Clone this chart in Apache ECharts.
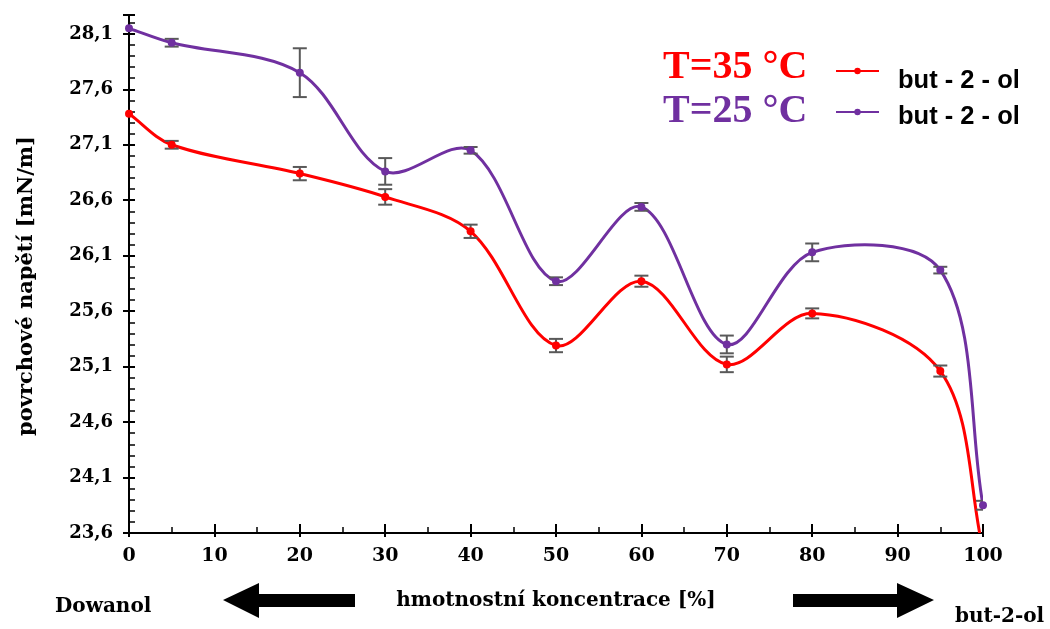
<!DOCTYPE html>
<html>
<head>
<meta charset="utf-8">
<script src="https://cdn.jsdelivr.net/npm/echarts@6/dist/echarts.min.js"></script>
<style>html,body{margin:0;padding:0;background:#fff}#c{width:1050px;height:629px}</style>
</head>
<body>
<div id="c"></div>
<script>
// ---- data ----
const concentrations = [0, 5, 20, 30, 40, 50, 60, 70, 80, 95, 100];
const t35Values = [27.38, 27.10, 26.84, 26.63, 26.32, 25.29, 25.87, 25.12, 25.58, 25.06, 23.45];
const t35Errors = [0, 0.035, 0.06, 0.07, 0.06, 0.06, 0.05, 0.07, 0.045, 0.05, 0.05];
const t25Values = [28.15, 28.02, 27.75, 26.86, 27.05, 25.87, 26.54, 25.30, 26.13, 25.97, 23.85];
const t25Errors = [0, 0.035, 0.22, 0.12, 0.03, 0.035, 0.035, 0.08, 0.08, 0.03, 0.04];
const seriesNames = ['T=35 °C', 'T=25 °C'];
const legendLabel = 'but - 2 - ol';
const xTitle = 'hmotnostní koncentrace [%]';
const yTitle = 'povrchové napětí [mN/m]';
const leftNote = 'Dowanol';
const rightNote = 'but-2-ol';

const RED = '#FF0000', PURPLE = '#7030A0', ERR = '#595959';
const SERIF = '"DejaVu Serif"';

const pts = (vals) => concentrations.map((x, i) => [x, vals[i]]);
const errPts = (vals, errs) => concentrations.map((x, i) => [x, vals[i], errs[i]]);

function errRender(params, api) {
  const x = api.value(0), y = api.value(1), e = api.value(2);
  if (!e) return null;
  const top = api.coord([x, y + e]), bot = api.coord([x, y - e]);
  const w = 7;
  const st = { stroke: ERR, lineWidth: 2 };
  return { type: 'group', children: [
    { type: 'line', shape: { x1: top[0], y1: top[1], x2: bot[0], y2: bot[1] }, style: st },
    { type: 'line', shape: { x1: top[0] - w, y1: top[1], x2: top[0] + w, y2: top[1] }, style: st },
    { type: 'line', shape: { x1: bot[0] - w, y1: bot[1], x2: bot[0] + w, y2: bot[1] }, style: st }
  ]};
}

// Smoothed (Catmull-Rom style) segment between consecutive data points, in pixel space
const TENSION = 1 / 3;
function ctrl(prev, cur, next, dir) {
  const tx = next[0] - prev[0], ty = next[1] - prev[1];
  const lp = Math.hypot(cur[0] - prev[0], cur[1] - prev[1]);
  const ln = Math.hypot(next[0] - cur[0], next[1] - cur[1]);
  const tot = lp + ln || 1;
  const k = TENSION * (dir > 0 ? ln : lp) / tot;
  return [cur[0] + dir * tx * k, cur[1] + dir * ty * k];
}
function makeCurveRender(color) {
  return function (params, api) {
    const i = params.dataIndexInside, n = params.dataInsideLength;
    if (i >= n - 1) return null;
    const P = k => api.coord([api.value(0, k), api.value(1, k)]);
    const p0 = P(Math.max(i - 1, 0)), p1 = P(i), p2 = P(i + 1), p3 = P(Math.min(i + 2, n - 1));
    const a = ctrl(p0, p1, p2, 1), b = ctrl(p1, p2, p3, -1);
    return { type: 'bezierCurve',
      shape: { x1: p1[0], y1: p1[1], x2: p2[0], y2: p2[1], cpx1: a[0], cpy1: a[1], cpx2: b[0], cpy2: b[1] },
      style: { stroke: color, lineWidth: 3, fill: null } };
  };
}

const chart = echarts.init(document.getElementById('c'), null, { renderer: 'canvas' });
chart.setOption({
  animation: false,
  backgroundColor: '#fff',
  grid: { left: 129, right: 67, top: 15, bottom: 96, containLabel: false, outerBoundsMode: 'none' },
  xAxis: [
    { type: 'value', min: 0, max: 100, interval: 10,
      axisLine: { lineStyle: { color: '#000', width: 2 } },
      axisTick: { inside: true, length: 9, lineStyle: { color: '#000', width: 2 } },
      minorTick: { show: true, splitNumber: 2, length: 6, lineStyle: { color: '#000', width: 1.5 } },
      axisLabel: { fontFamily: SERIF, fontWeight: 'bold', fontSize: 19, color: '#000', margin: 14 },
      splitLine: { show: false },
      name: xTitle, nameLocation: 'middle', nameGap: 58,
      nameTextStyle: { fontFamily: SERIF, fontWeight: 'bold', fontSize: 20, color: '#000' } },
    { type: 'value', min: 0, max: 100, interval: 10, position: 'bottom',
      axisLine: { show: false }, axisLabel: { show: false }, splitLine: { show: false },
      axisTick: { inside: false, length: 4, lineStyle: { color: '#000', width: 2 } } }
  ],
  yAxis: [
    { type: 'value', min: 23.6, max: 28.27, interval: 0.5,
      axisLine: { show: true, lineStyle: { color: '#000', width: 2 } },
      axisTick: { inside: true, length: 6, lineStyle: { color: '#000', width: 2 } },
      minorTick: { show: true, splitNumber: 5, length: 6, lineStyle: { color: '#000', width: 1.5 } },
      axisLabel: { fontFamily: SERIF, fontWeight: 'bold', fontSize: 18, color: '#000', margin: 16,
        showMaxLabel: false, formatter: v => v.toFixed(1).replace('.', ',') },
      splitLine: { show: false } },
    { type: 'value', min: 23.6, max: 28.27, interval: 0.5, position: 'left',
      axisLine: { show: false }, axisLabel: { show: false }, splitLine: { show: false },
      axisTick: { inside: false, length: 6, lineStyle: { color: '#000', width: 2 } } }
  ],
  legend: [
    { data: [seriesNames[0]], left: 835, top: 67, padding: 0, itemWidth: 43, itemHeight: 8,
      formatter: () => '', lineStyle: { opacity: 1 } },
    { data: [seriesNames[1]], left: 835, top: 108, padding: 0, itemWidth: 43, itemHeight: 8,
      formatter: () => '', lineStyle: { opacity: 1 } }
  ],
  series: [
    { name: seriesNames[0], type: 'line', data: pts(t35Values), symbol: 'circle', symbolSize: 8,
      itemStyle: { color: RED }, lineStyle: { color: RED, width: 3, opacity: 0 }, z: 5, clip: true },
    { name: seriesNames[1], type: 'line', data: pts(t25Values), symbol: 'circle', symbolSize: 8,
      itemStyle: { color: PURPLE }, lineStyle: { color: PURPLE, width: 3, opacity: 0 }, z: 5, clip: true },
    { type: 'custom', data: pts(t35Values), renderItem: makeCurveRender(RED), encode: { x: 0, y: 1 }, z: 2, clip: true, silent: true },
    { type: 'custom', data: pts(t25Values), renderItem: makeCurveRender(PURPLE), encode: { x: 0, y: 1 }, z: 2, clip: true, silent: true },
    { type: 'custom', data: errPts(t35Values, t35Errors), renderItem: errRender, encode: { x: 0, y: 1 }, z: 4, clip: true, silent: true },
    { type: 'custom', data: errPts(t25Values, t25Errors), renderItem: errRender, encode: { x: 0, y: 1 }, z: 4, clip: true, silent: true }
  ],
  graphic: [
    { type: 'text', left: 663, top: 48, style: { text: seriesNames[0], font: 'bold 40px "Liberation Serif"', fill: RED } },
    { type: 'text', left: 663, top: 92, style: { text: seriesNames[1], font: 'bold 40px "Liberation Serif"', fill: PURPLE } },
    { type: 'text', x: 898, y: 81, style: { text: legendLabel, font: 'bold 25.5px "Liberation Sans"', fill: '#000', verticalAlign: 'middle' } },
    { type: 'text', x: 898, y: 117, style: { text: legendLabel, font: 'bold 25.5px "Liberation Sans"', fill: '#000', verticalAlign: 'middle' } },
    { type: 'text', x: 27, y: 286, rotation: Math.PI / 2,
      style: { text: yTitle, font: 'bold 21px "DejaVu Serif"', fill: '#000', align: 'center', verticalAlign: 'middle' } },
    { type: 'polygon', shape: { points: [[223,600],[259,583],[259,594],[355,594],[355,607],[259,607],[259,618]] }, style: { fill: '#000' } },
    { type: 'polygon', shape: { points: [[934,600],[897,583],[897,594],[793,594],[793,607],[897,607],[897,618]] }, style: { fill: '#000' } },
    { type: 'text', left: 55, top: 597, style: { text: leftNote, font: 'bold 20px "DejaVu Serif"', fill: '#000' } },
    { type: 'text', left: 955, top: 607, style: { text: rightNote, font: 'bold 20px "DejaVu Serif"', fill: '#000' } }
  ]
});
</script>
</body>
</html>
